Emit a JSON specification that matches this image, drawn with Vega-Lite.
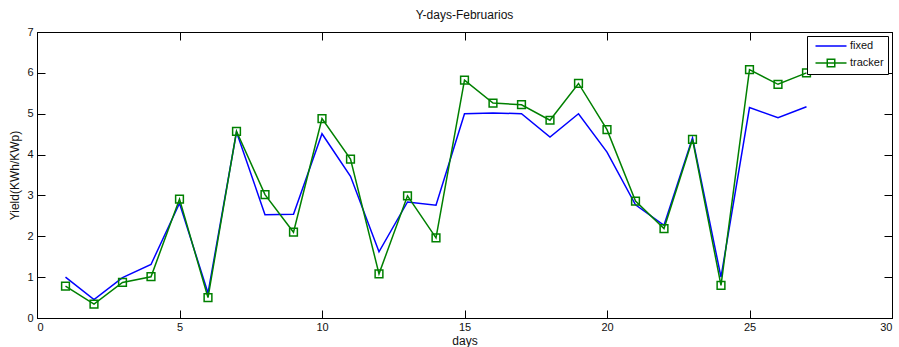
{
  "$schema": "https://vega.github.io/schema/vega-lite/v6.json",
  "width": 855,
  "height": 286,
  "autosize": {"type": "none"},
  "padding": {"left": 37, "top": 32, "right": 7, "bottom": 29},
  "background": "white",
  "title": {
    "text": "Y-days-Februarios",
    "fontSize": 12,
    "fontWeight": "normal",
    "font": "Liberation Sans",
    "color": "#111",
    "offset": 4
  },
  "config": {
    "font": "Liberation Sans",
    "view": {"stroke": "black", "strokeWidth": 1},
    "axis": {
      "grid": false,
      "domainColor": "black",
      "tickColor": "black",
      "tickSize": -8,
      "labelColor": "#111",
      "titleColor": "#111",
      "labelFontSize": 11,
      "titleFontSize": 12,
      "titleFontWeight": "normal"
    },
    "legend": {
      "orient": "top-right",
      "offset": 4,
      "strokeColor": "black",
      "fillColor": "white",
      "padding": 4,
      "cornerRadius": 0,
      "labelFontSize": 11,
      "labelColor": "#111",
      "rowPadding": 5
    }
  },
  "data": {
    "values": [
      {"day": 1, "series": "fixed", "yield": 1.0},
      {"day": 2, "series": "fixed", "yield": 0.45},
      {"day": 3, "series": "fixed", "yield": 0.99},
      {"day": 4, "series": "fixed", "yield": 1.31},
      {"day": 5, "series": "fixed", "yield": 2.81},
      {"day": 6, "series": "fixed", "yield": 0.61},
      {"day": 7, "series": "fixed", "yield": 4.55},
      {"day": 8, "series": "fixed", "yield": 2.53},
      {"day": 9, "series": "fixed", "yield": 2.54},
      {"day": 10, "series": "fixed", "yield": 4.51},
      {"day": 11, "series": "fixed", "yield": 3.47},
      {"day": 12, "series": "fixed", "yield": 1.62},
      {"day": 13, "series": "fixed", "yield": 2.84},
      {"day": 14, "series": "fixed", "yield": 2.76},
      {"day": 15, "series": "fixed", "yield": 5.0},
      {"day": 16, "series": "fixed", "yield": 5.02},
      {"day": 17, "series": "fixed", "yield": 5.0},
      {"day": 18, "series": "fixed", "yield": 4.43},
      {"day": 19, "series": "fixed", "yield": 5.0},
      {"day": 20, "series": "fixed", "yield": 4.06},
      {"day": 21, "series": "fixed", "yield": 2.77},
      {"day": 22, "series": "fixed", "yield": 2.27},
      {"day": 23, "series": "fixed", "yield": 4.41},
      {"day": 24, "series": "fixed", "yield": 1.0},
      {"day": 25, "series": "fixed", "yield": 5.15},
      {"day": 26, "series": "fixed", "yield": 4.9},
      {"day": 27, "series": "fixed", "yield": 5.17},
      {"day": 1, "series": "tracker", "yield": 0.78},
      {"day": 2, "series": "tracker", "yield": 0.34},
      {"day": 3, "series": "tracker", "yield": 0.87},
      {"day": 4, "series": "tracker", "yield": 1.01},
      {"day": 5, "series": "tracker", "yield": 2.91},
      {"day": 6, "series": "tracker", "yield": 0.5},
      {"day": 7, "series": "tracker", "yield": 4.57},
      {"day": 8, "series": "tracker", "yield": 3.02},
      {"day": 9, "series": "tracker", "yield": 2.1},
      {"day": 10, "series": "tracker", "yield": 4.88},
      {"day": 11, "series": "tracker", "yield": 3.89},
      {"day": 12, "series": "tracker", "yield": 1.08},
      {"day": 13, "series": "tracker", "yield": 2.99},
      {"day": 14, "series": "tracker", "yield": 1.96},
      {"day": 15, "series": "tracker", "yield": 5.82},
      {"day": 16, "series": "tracker", "yield": 5.26},
      {"day": 17, "series": "tracker", "yield": 5.22},
      {"day": 18, "series": "tracker", "yield": 4.84},
      {"day": 19, "series": "tracker", "yield": 5.74},
      {"day": 20, "series": "tracker", "yield": 4.61},
      {"day": 21, "series": "tracker", "yield": 2.86},
      {"day": 22, "series": "tracker", "yield": 2.19},
      {"day": 23, "series": "tracker", "yield": 4.37},
      {"day": 24, "series": "tracker", "yield": 0.8},
      {"day": 25, "series": "tracker", "yield": 6.08},
      {"day": 26, "series": "tracker", "yield": 5.72},
      {"day": 27, "series": "tracker", "yield": 6.0}
    ]
  },
  "resolve": {"axis": {"x": "independent", "y": "independent"}},
  "layer": [
    {
      "mark": {"type": "line", "strokeWidth": 1.5},
      "encoding": {
        "x": {
          "field": "day",
          "type": "quantitative",
          "scale": {"domain": [0, 30], "nice": false, "zero": false},
          "axis": {"orient": "bottom", "values": [0, 5, 10, 15, 20, 25, 30], "title": "days", "labelPadding": 11, "titleY": 26, "titleBaseline": "alphabetic"}
        },
        "y": {
          "field": "yield",
          "type": "quantitative",
          "scale": {"domain": [0, 7], "nice": false},
          "axis": {"orient": "left", "values": [0, 1, 2, 3, 4, 5, 6, 7], "title": "Yield(KWh/KWp)", "labelPadding": 12, "titleX": -16}
        },
        "color": {
          "field": "series",
          "type": "nominal",
          "scale": {"domain": ["fixed", "tracker"], "range": ["#0000ff", "#008000"]},
          "legend": {
            "title": null,
            "symbolSize": 100,
            "symbolStrokeWidth": 1.5,
            "symbolOffset": 14,
            "labelOffset": 13,
            "encode": {
              "symbols": {
                "update": {
                  "shape": {"signal": "datum.value === 'tracker' ? 'M-3.1,0H3.1M-0.75,-0.75H0.75V0.75H-0.75Z' : 'M-3.1,0H3.1'"},
                  "fill": {"value": "transparent"}
                }
              }
            }
          }
        }
      }
    },
    {
      "transform": [{"filter": "datum.series === 'tracker'"}],
      "mark": {"type": "point", "shape": "square", "filled": false, "size": 60, "strokeWidth": 1.5, "color": "#008000", "opacity": 1},
      "encoding": {
        "x": {
          "field": "day",
          "type": "quantitative",
          "axis": {"orient": "top", "values": [0, 5, 10, 15, 20, 25, 30], "labels": false, "title": null}
        },
        "y": {
          "field": "yield",
          "type": "quantitative",
          "axis": {"orient": "right", "values": [0, 1, 2, 3, 4, 5, 6, 7], "labels": false, "title": null}
        }
      }
    }
  ]
}
